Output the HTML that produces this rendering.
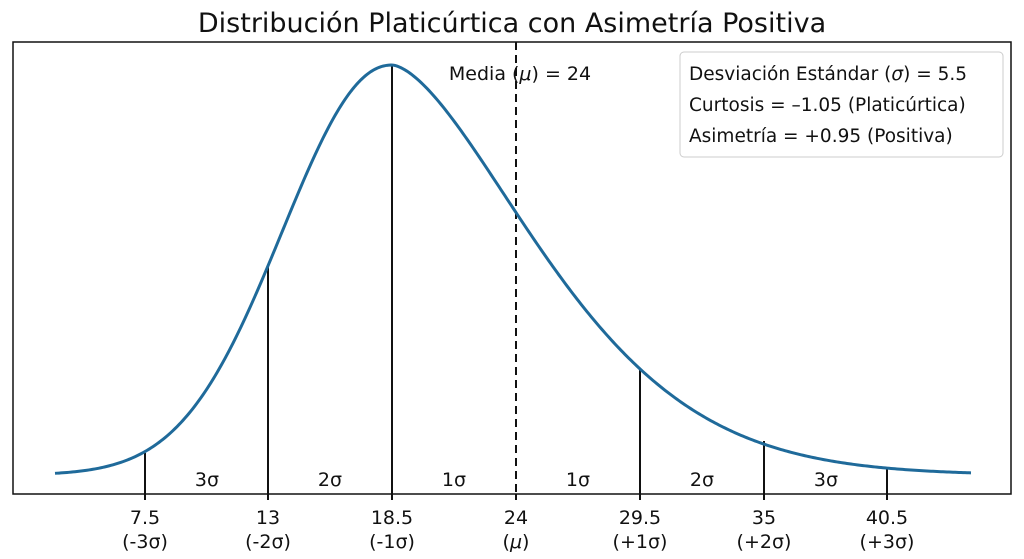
<!DOCTYPE html>
<html><head><meta charset="utf-8"><style>
body{margin:0;background:#fff}
svg{display:block;font-family:"DejaVu Sans","Liberation Sans",sans-serif}
</style></head><body>
<svg id="s" width="1024" height="559" viewBox="0 0 1024 559">
<rect width="1024" height="559" fill="#fff"/>
<text x="512" y="32" font-size="27" text-anchor="middle" fill="#111">Distribución Platicúrtica con Asimetría Positiva</text>
<rect x="13" y="42" width="998" height="452" fill="none" stroke="#111" stroke-width="1.5"/>
<g stroke="#111" stroke-width="2">
<line x1="145" y1="453" x2="145" y2="500"/>
<line x1="268" y1="265" x2="268" y2="500"/>
<line x1="392" y1="65" x2="392" y2="500"/>
<line x1="640" y1="368" x2="640" y2="500"/>
<line x1="764" y1="441" x2="764" y2="500"/>
<line x1="887" y1="469" x2="887" y2="500"/>
<line x1="516" y1="494" x2="516" y2="500"/>
<line x1="516" y1="42" x2="516" y2="494" stroke-dasharray="8,5"/>
</g>
<path id="c" fill="none" stroke="#1f6a9a" stroke-width="3"/>
<g font-size="19" fill="#111" text-anchor="middle">
<text x="207" y="486">3σ</text><text x="330" y="486">2σ</text><text x="454" y="486">1σ</text>
<text x="578" y="486">1σ</text><text x="702" y="486">2σ</text><text x="826" y="486">3σ</text>
<text x="145" y="524">7.5</text><text x="145" y="548">(-3σ)</text>
<text x="268" y="524">13</text><text x="268" y="548">(-2σ)</text>
<text x="392" y="524">18.5</text><text x="392" y="548">(-1σ)</text>
<text x="516" y="524">24</text><text x="516" y="548">(<tspan font-style="italic">μ</tspan>)</text>
<text x="520" y="80">Media (<tspan font-style="italic">μ</tspan>) = 24</text>
<text x="640" y="524">29.5</text><text x="640" y="548">(+1σ)</text>
<text x="764" y="524">35</text><text x="764" y="548">(+2σ)</text>
<text x="887" y="524">40.5</text><text x="887" y="548">(+3σ)</text>
</g>
<rect x="680" y="52" width="323" height="105" rx="4" fill="#fff" stroke="#ccc"/>
<g font-size="18.5" fill="#111">
<text x="689" y="80">Desviación Estándar (<tspan font-style="italic">σ</tspan>) = 5.5</text>
<text x="689" y="111">Curtosis = –1.05 (Platicúrtica)</text>
<text x="689" y="142">Asimetría = +0.95 (Positiva)</text>
</g>
</svg>
<script>
var d="";
for(var x=55;x<=972;x+=2){var t=x-392,v;
if(t<0)v=Math.exp(-0.673*Math.pow(-t/124,2.1));else v=Math.exp(-0.446*Math.pow(t/124,1.6));
var y=475-410*v;d+=(d?" L":"M")+x+","+y.toFixed(2);}
document.getElementById("c").setAttribute("d",d);
</script>
</body></html>
